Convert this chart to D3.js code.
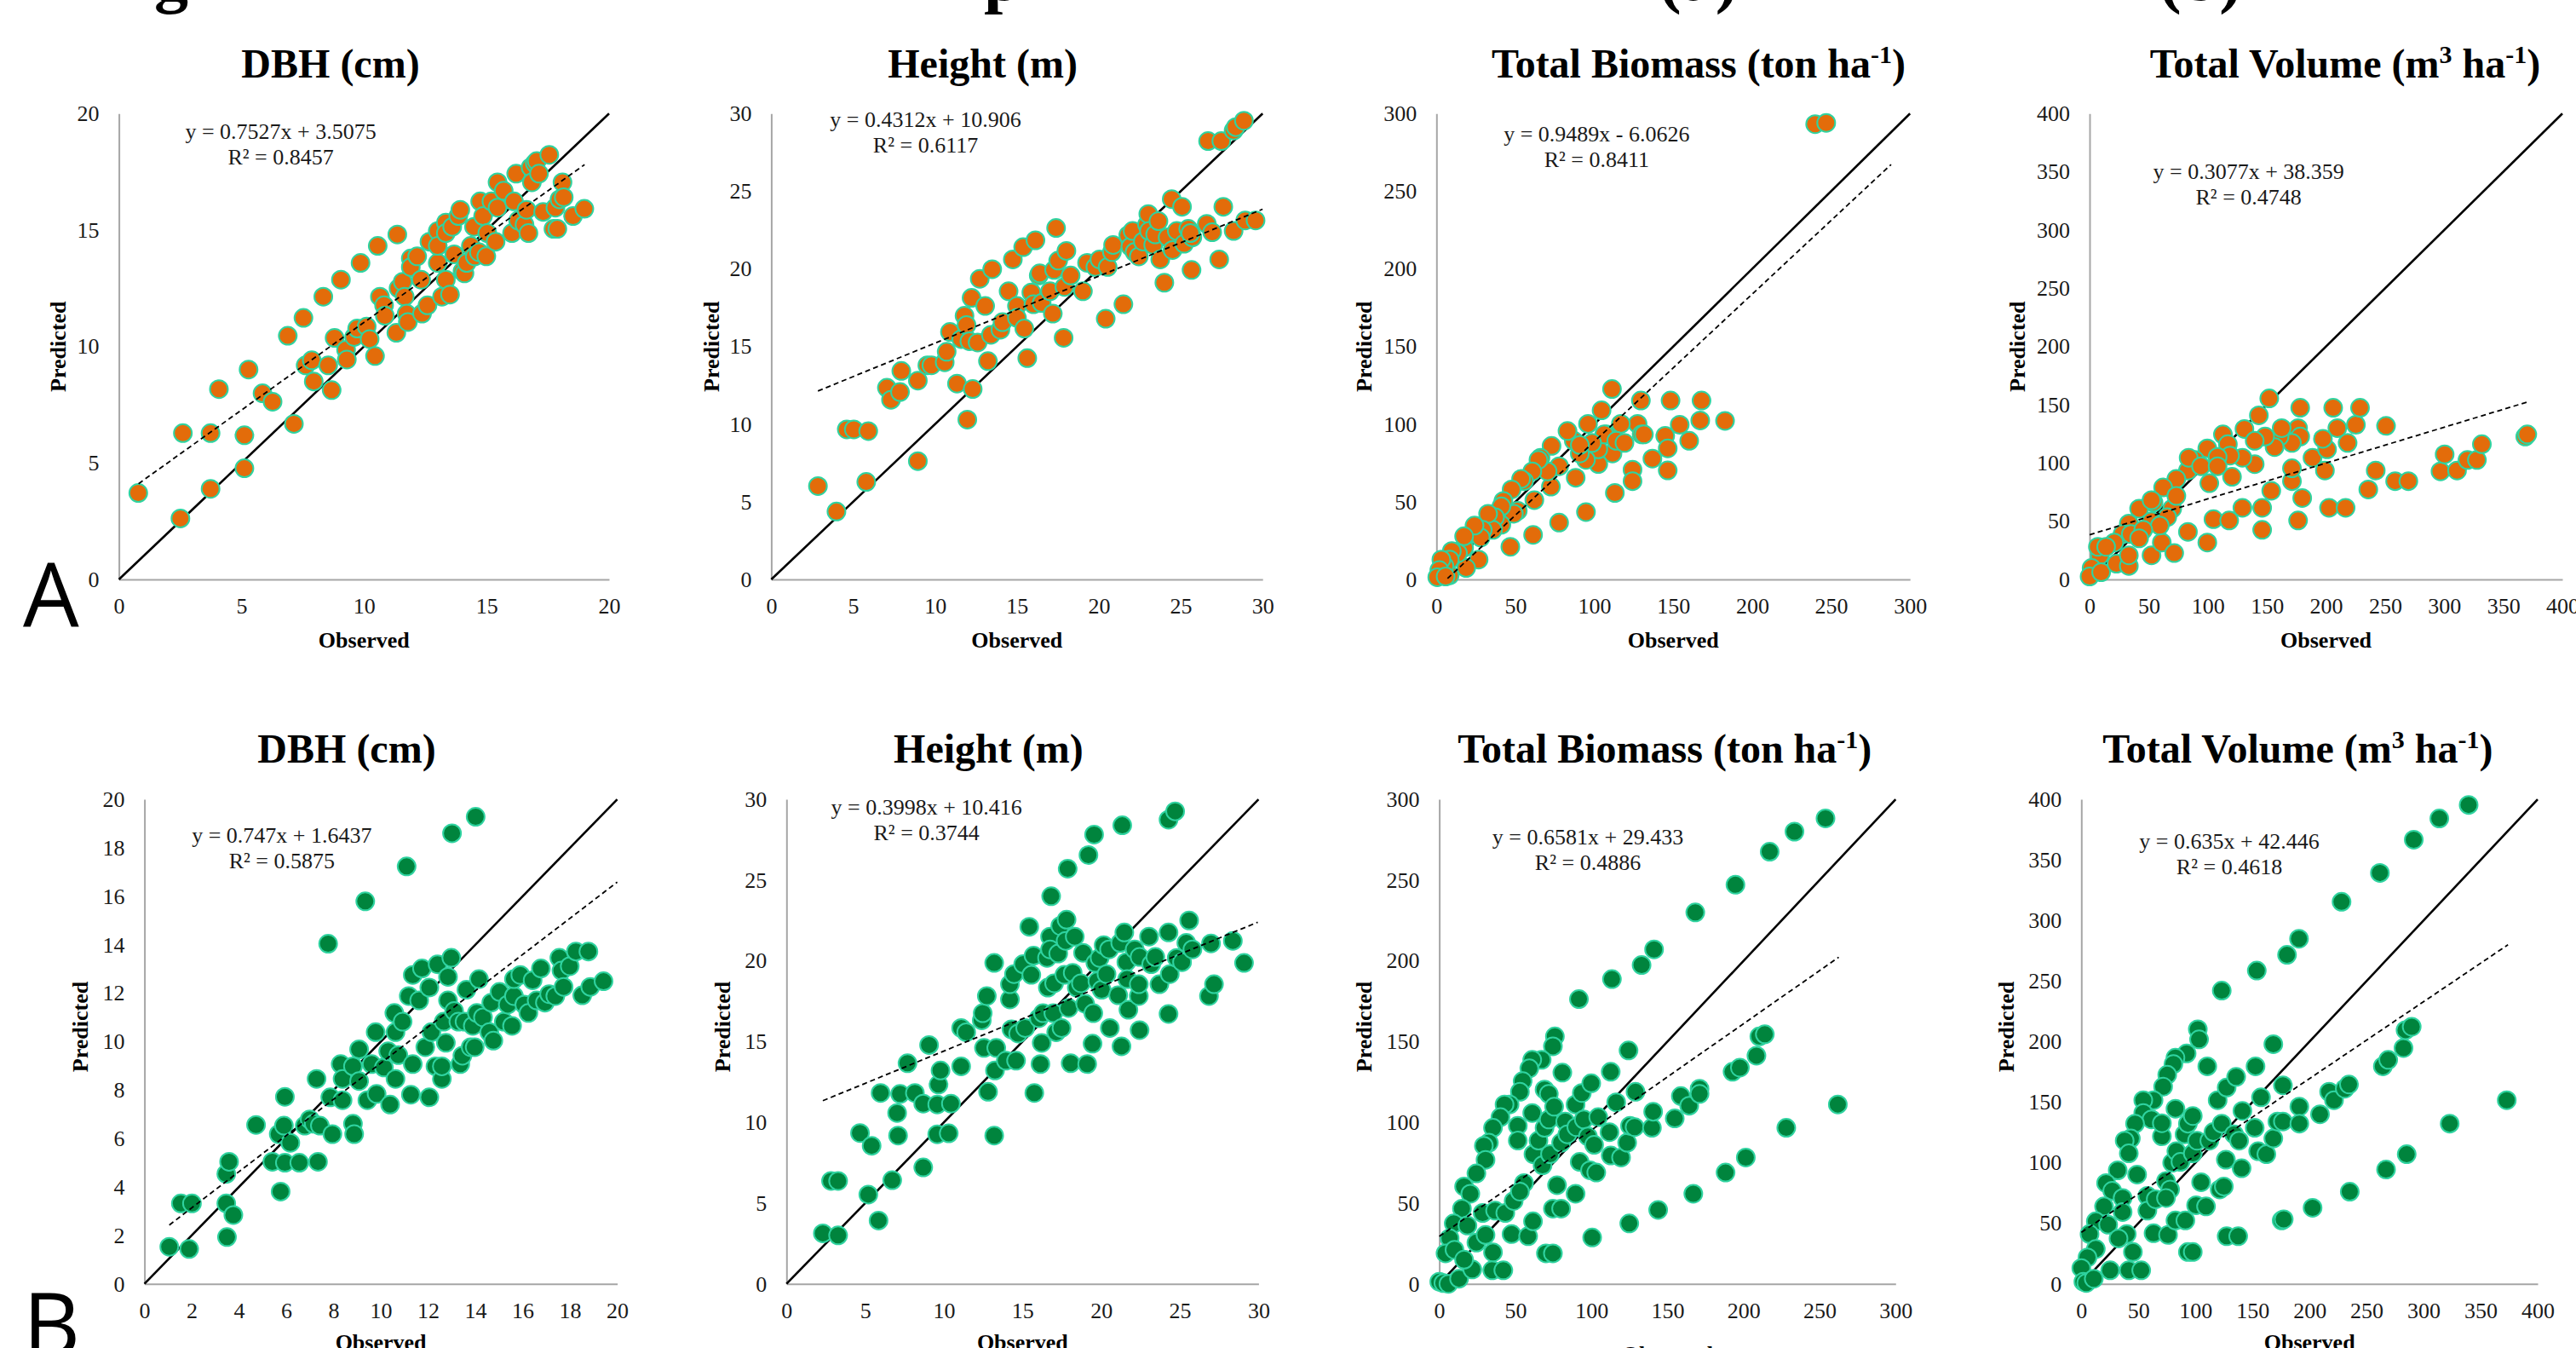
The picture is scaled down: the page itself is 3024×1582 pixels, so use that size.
<!DOCTYPE html>
<html>
<head>
<meta charset="utf-8">
<script src="https://cdn.jsdelivr.net/npm/d3@7"></script>
<style>
  body { margin: 0; background: #fff; }
  svg { display: block; font-family: "Liberation Serif", "Times New Roman", serif; }
  .axis .domain { stroke: #a6a6a6; stroke-width: 2px; }
  .axis .tick text { font-size: 26px; fill: #1a1a1a; font-family: "Liberation Serif", "Times New Roman", serif; }
  .title { font-size: 48px; font-weight: bold; white-space: pre; }
  .axis-label { font-size: 26px; font-weight: bold; }
  .eq { font-size: 26px; fill: #1a1a1a; }
</style>
</head>
<body>
<div id="chart"></div>
<script>

// ---- data: [observed, predicted] ----
const dbhTrain = [[0.79,3.71],[2.51,2.62],[2.61,6.28],[3.74,6.28],[3.74,3.89],[4.08,8.17],[5.12,6.19],[5.12,4.77],[5.29,9.01],[5.86,7.99],[6.27,7.63],[6.89,10.46],[7.14,6.68],[7.53,11.23],[7.62,9.19],[7.87,9.41],[7.95,8.50],[8.34,12.14],[8.54,9.19],[8.68,8.13],[8.80,10.37],[9.06,12.87],[9.27,9.86],[9.30,9.44],[9.60,10.41],[9.72,10.77],[9.86,13.59],[10.11,10.86],[10.23,10.32],[10.45,9.59],[10.56,14.32],[10.65,12.14],[10.82,11.77],[10.85,11.32],[11.32,10.59],[11.36,14.81],[11.41,12.50],[11.58,12.78],[11.66,12.14],[11.74,11.41],[11.79,11.05],[11.91,13.78],[11.91,13.41],[12.17,13.87],[12.33,12.87],[12.37,11.41],[12.59,11.77],[12.67,14.50],[13.01,14.96],[13.01,13.59],[13.01,14.32],[13.18,12.14],[13.34,15.32],[13.34,12.87],[13.34,14.87],[13.51,12.23],[13.60,15.14],[13.68,13.96],[13.85,15.60],[13.93,15.87],[14.02,13.23],[14.10,13.14],[14.19,13.59],[14.36,14.32],[14.49,15.14],[14.52,13.87],[14.69,14.05],[14.74,16.23],[14.86,15.60],[14.99,13.87],[15.03,14.87],[15.20,16.23],[15.37,14.50],[15.45,17.05],[15.45,15.96],[15.70,16.69],[16.04,14.87],[16.12,16.23],[16.21,17.42],[16.29,15.41],[16.55,15.23],[16.63,15.87],[16.71,14.87],[16.80,17.69],[16.85,17.05],[16.97,17.87],[17.05,17.96],[17.14,17.42],[17.31,15.78],[17.56,18.23],[17.73,15.05],[17.81,15.96],[17.89,15.05],[17.98,16.32],[18.10,17.05],[18.15,16.41],[18.53,15.60],[18.99,15.91]];

const heightTrain = [[2.85,6.01],[3.98,4.37],[4.61,9.66],[5.04,9.66],[5.92,9.55],[5.80,6.28],[7.06,12.34],[7.31,11.57],[7.94,13.43],[7.86,12.07],[8.95,12.80],[8.95,7.62],[9.53,13.79],[9.78,13.79],[10.59,13.98],[10.71,14.66],[10.91,15.94],[11.34,12.61],[11.60,15.48],[11.80,16.98],[11.92,16.38],[11.97,10.29],[12.10,15.34],[12.23,18.13],[12.30,12.26],[12.60,15.26],[12.73,19.36],[13.06,17.61],[13.23,14.06],[13.41,15.75],[13.49,19.98],[13.99,16.08],[14.12,16.57],[14.49,18.56],[14.75,20.61],[15.00,17.61],[15.00,16.84],[15.38,21.40],[15.45,16.16],[15.63,14.25],[15.88,18.48],[16.01,17.72],[16.13,21.84],[16.33,19.57],[16.51,17.80],[16.39,19.71],[17.02,18.56],[17.19,17.12],[17.27,19.93],[17.39,22.63],[17.52,20.53],[17.85,15.56],[17.90,18.84],[18.02,21.16],[18.28,19.57],[19.03,18.56],[19.28,20.39],[19.79,20.12],[20.04,20.61],[20.42,16.79],[20.54,20.12],[20.80,21.08],[20.87,21.54],[21.50,17.72],[21.80,22.17],[21.93,21.43],[22.06,22.44],[22.18,21.08],[22.44,20.80],[22.69,21.76],[22.94,22.85],[23.02,23.53],[23.06,22.44],[23.32,21.54],[23.44,22.22],[23.64,23.07],[23.75,20.61],[24.00,19.11],[24.20,22.03],[24.45,24.49],[24.50,21.21],[24.76,22.44],[25.08,24.00],[25.21,21.62],[25.46,22.58],[25.66,19.93],[25.71,22.03],[25.59,22.30],[26.59,22.90],[26.67,28.23],[26.92,22.36],[27.35,20.61],[27.48,28.23],[27.60,24.00],[28.23,22.44],[28.23,28.91],[28.36,29.13],[28.86,29.54],[28.94,23.12],[29.57,23.12]];

const biomassTrain = [[239.9,293.2],[246.9,294.0],[111.2,122.6],[104.6,108.9],[129.5,115.2],[148.3,115.2],[167.9,115.2],[182.8,102.1],[167.1,102.4],[154.1,99.6],[144.9,92.5],[160.1,89.3],[146.5,84.4],[136.8,77.8],[146.5,70.2],[124.2,70.7],[124.2,63.3],[113.0,55.7],[94.7,43.4],[77.7,36.6],[61.2,28.7],[46.8,21.0],[127.4,100.2],[130.0,93.4],[116.8,100.2],[111.5,81.1],[107.6,93.4],[102.5,74.3],[102.5,83.8],[96.0,100.2],[94.7,77.0],[88.2,65.5],[87.0,89.3],[83.0,95.6],[77.7,72.9],[72.9,86.0],[72.5,59.8],[70.4,69.6],[65.9,78.4],[64.6,77.0],[62.0,51.1],[60.7,69.6],[55.5,63.3],[53.6,64.7],[51.5,44.2],[49.0,42.3],[47.6,57.9],[42.4,50.5],[41.1,47.0],[41.1,35.2],[37.1,40.1],[35.8,31.9],[32.7,42.3],[29.3,31.9],[28.0,27.0],[26.7,12.8],[24.1,34.7],[18.8,7.4],[17.5,20.5],[17.5,27.8],[13.6,16.9],[9.7,18.3],[8.4,12.8],[8.4,2.7],[5.0,8.7],[3.1,12.8],[1.8,6.0],[0.5,1.4],[5.8,1.9],[106.3,93.4],[113.9,89.3],[119.1,87.9],[131.4,93.4],[98.6,87.9],[90.8,81.1],[90.8,86.5]];

const volumeTrain = [[152.0,155.4],[143.2,140.9],[131.0,129.2],[112.8,124.5],[117.0,116.1],[99.6,112.5],[89.1,102.6],[83.2,93.5],[73.4,86.3],[62.2,79.0],[54.1,66.2],[41.9,60.8],[33.2,48.0],[27.9,38.9],[20.9,31.7],[8.7,20.7],[7.0,28.0],[1.7,9.8],[0.0,2.5],[9.8,6.2],[22.7,13.5],[33.2,11.6],[33.2,20.7],[34.9,38.9],[52.4,49.9],[52.4,20.7],[61.1,31.7],[71.6,22.6],[69.9,60.8],[65.7,53.5],[83.2,40.8],[99.6,31.7],[104.8,51.7],[118.1,50.6],[129.3,61.5],[146.0,42.6],[146.0,61.5],[153.7,76.1],[171.2,84.4],[171.2,95.4],[176.4,50.6],[179.9,69.9],[178.2,147.4],[176.4,129.9],[178.2,122.7],[171.2,117.2],[160.7,122.7],[162.5,129.9],[156.5,113.6],[148.5,122.7],[139.7,119.0],[139.7,99.0],[129.3,104.5],[120.5,88.1],[118.8,106.3],[108.3,105.2],[101.3,82.6],[188.6,104.5],[199.1,93.5],[200.9,111.7],[197.4,120.8],[206.1,147.4],[209.6,129.9],[218.3,117.2],[225.3,132.8],[228.8,147.4],[202.6,61.5],[216.6,61.5],[235.8,77.2],[242.1,93.5],[250.8,131.8],[258.5,84.4],[269.7,84.4],[296.9,92.8],[300.4,107.4],[310.9,93.5],[319.7,102.6],[327.7,102.6],[331.9,116.1],[368.6,122.7],[370.3,124.5],[83.8,104.5],[94.3,97.2],[108.3,97.2],[73.4,71.7],[59.4,46.2],[45.4,42.6],[14.0,28.0],[41.9,35.3],[52.4,68.1]];

const dbhTest = [[1.05,1.53],[1.89,1.44],[1.54,3.32],[2.01,3.32],[3.49,1.93],[3.46,3.32],[3.76,2.84],[3.46,4.54],[3.58,5.04],[4.72,6.56],[5.41,5.04],[5.76,3.81],[5.94,5.00],[6.55,5.00],[7.34,5.04],[5.68,6.18],[5.90,6.53],[6.17,5.82],[5.94,7.72],[6.78,6.53],[6.99,6.79],[7.16,6.61],[7.42,6.53],[7.28,8.46],[7.77,14.04],[7.86,7.70],[7.95,6.18],[8.30,9.07],[8.38,7.58],[8.38,8.46],[8.82,6.61],[8.87,6.18],[8.82,8.98],[9.08,9.68],[9.08,8.37],[9.34,15.79],[9.43,7.58],[9.61,9.07],[9.78,10.39],[9.82,7.84],[10.13,8.93],[10.31,9.60],[10.39,7.40],[10.57,11.18],[10.62,8.46],[10.62,10.39],[10.74,9.44],[10.92,10.82],[11.09,17.23],[11.18,11.88],[11.27,7.81],[11.35,9.07],[11.35,12.75],[11.62,11.70],[11.74,13.02],[12.05,7.70],[12.05,12.23],[11.88,9.77],[12.14,10.39],[12.31,8.98],[12.40,13.19],[12.58,8.46],[12.58,8.98],[12.66,10.82],[12.75,9.95],[12.84,12.67],[12.84,11.70],[12.98,13.46],[13.01,18.60],[13.10,11.26],[13.28,10.82],[13.36,9.07],[13.45,9.42],[13.54,10.82],[13.62,12.14],[13.80,9.77],[13.89,10.65],[13.97,9.77],[14.01,19.28],[14.06,11.18],[14.15,12.58],[14.32,11.00],[14.59,10.39],[14.67,11.61],[14.76,10.04],[15.02,12.05],[15.20,10.82],[15.37,11.53],[15.55,10.65],[15.63,11.88],[15.63,12.58],[15.90,12.75],[16.07,11.53],[16.24,11.18],[16.42,12.53],[16.59,11.70],[16.77,13.02],[16.94,11.61],[17.12,11.96],[17.38,11.88],[17.55,13.46],[17.64,12.93],[17.73,12.26],[17.99,13.11],[18.25,13.72],[18.52,11.91],[18.78,13.72],[18.86,12.26],[19.42,12.49]];

const heightTest = [[2.31,3.13],[3.28,3.00],[2.83,6.37],[3.28,6.37],[5.20,5.53],[5.85,3.92],[4.67,9.34],[5.41,8.55],[6.72,6.42],[5.98,11.82],[7.09,9.18],[7.03,10.58],[7.22,11.76],[7.69,13.66],[8.16,11.82],[8.69,11.16],[8.69,7.21],[9.06,14.79],[9.58,11.11],[9.66,12.34],[9.79,13.21],[9.58,9.26],[10.31,9.32],[10.45,11.16],[11.10,13.47],[11.10,15.84],[11.42,15.58],[12.41,16.32],[12.47,16.76],[12.55,14.61],[12.73,17.82],[12.81,11.89],[13.20,19.87],[13.20,9.18],[13.25,13.21],[13.33,14.61],[13.94,13.82],[14.20,17.61],[14.20,18.55],[14.30,15.76],[14.46,19.18],[14.59,13.82],[14.72,15.50],[15.04,19.79],[15.17,15.84],[15.43,22.11],[15.56,19.13],[15.70,20.32],[15.75,11.82],[16.04,16.45],[16.14,13.61],[16.22,14.92],[16.30,16.76],[16.56,20.18],[16.61,18.34],[16.75,21.50],[16.75,20.71],[16.82,24.00],[16.96,16.76],[17.01,18.61],[17.14,15.58],[17.27,20.45],[17.40,22.16],[17.48,15.84],[17.66,19.13],[17.74,21.24],[17.80,22.55],[17.87,25.71],[17.93,17.08],[18.06,13.66],[18.19,19.26],[18.32,21.50],[18.45,18.34],[18.71,18.61],[18.85,20.50],[18.98,17.34],[19.11,13.61],[19.19,26.55],[19.50,16.76],[19.45,14.87],[19.55,27.82],[19.63,19.87],[19.76,18.74],[19.90,20.18],[20.03,18.21],[20.16,20.97],[20.34,19.18],[20.50,20.71],[20.55,15.84],[21.08,17.87],[21.21,21.11],[21.29,14.71],[21.34,28.39],[21.47,21.76],[21.60,19.92],[21.73,16.97],[21.65,18.87],[22.13,20.71],[22.39,17.82],[22.44,20.24],[22.44,15.71],[22.39,18.55],[23.04,21.50],[23.18,19.79],[23.44,20.24],[23.70,18.55],[24.28,21.76],[24.28,16.71],[24.28,28.74],[24.36,19.18],[24.70,29.26],[24.80,20.18],[25.14,19.92],[25.41,21.11],[25.59,22.50],[25.80,20.71],[26.85,17.82],[26.98,21.08],[27.17,18.55],[28.37,21.24],[29.08,19.87]];

const biomassTest = [[253.9,288.2],[233.5,280.0],[217.2,267.6],[194.7,247.1],[168.3,230.0],[141.2,207.1],[133.0,197.4],[113.5,188.7],[91.8,176.3],[76.0,153.2],[74.7,147.1],[67.3,138.7],[61.1,138.7],[59.2,133.4],[54.8,125.5],[53.0,118.9],[46.2,111.1],[42.9,111.1],[40.2,103.2],[35.3,96.6],[32.6,87.4],[29.3,85.5],[30.4,76.8],[24.4,68.4],[16.3,60.3],[20.4,55.8],[14.9,46.6],[9.5,37.4],[6.8,28.2],[4.1,18.9],[0.0,1.3],[2.7,0.5],[6.0,0.0],[13.0,3.2],[21.7,8.9],[34.8,8.4],[42.1,8.4],[35.3,19.5],[10.0,21.1],[16.3,15.0],[24.4,25.5],[30.4,30.3],[18.5,36.1],[28.5,43.9],[36.7,45.3],[43.4,43.9],[48.9,51.3],[47.5,30.8],[58.4,29.5],[61.6,38.7],[55.7,62.4],[53.0,57.1],[51.6,97.9],[51.6,88.7],[61.1,105.8],[61.9,80.3],[65.2,88.7],[67.9,73.4],[70.1,18.9],[74.7,18.9],[69.2,120.3],[72.0,117.6],[69.2,96.6],[72.0,101.8],[72.8,80.3],[75.5,109.7],[74.7,46.6],[77.4,61.1],[80.1,87.4],[80.1,46.6],[80.9,130.8],[82.8,100.5],[84.2,92.6],[89.6,55.8],[90.1,97.1],[89.6,111.1],[92.3,75.5],[93.7,118.2],[95.0,101.8],[97.7,91.3],[99.1,70.3],[99.9,124.2],[100.5,28.7],[101.8,86.1],[103.2,68.9],[104.5,103.2],[111.9,93.9],[112.7,79.5],[112.7,131.3],[116.3,112.4],[119.5,78.2],[123.5,87.4],[124.4,144.5],[124.9,37.4],[125.4,97.9],[129.0,118.9],[128.4,97.1],[139.8,96.6],[140.6,106.6],[143.9,45.8],[154.8,102.4],[158.8,116.3],[164.3,110.3],[167.0,55.8],[171.1,120.8],[171.1,117.6],[188.2,68.9],[192.8,131.3],[197.6,133.9],[201.5,78.2],[208.5,141.3],[210.4,153.2],[214.0,154.5],[228.1,96.6],[262.0,111.1]];

const volumeTest = [[339.5,395.4],[313.8,384.2],[291.4,366.7],[261.7,339.3],[228.1,315.4],[190.8,284.9],[180.3,271.6],[153.8,258.6],[123.1,242.1],[102.1,210.2],[103.2,201.8],[92.3,190.2],[82.5,186.7],[80.7,181.4],[75.3,172.6],[71.7,162.8],[63.3,151.6],[54.3,151.6],[54.3,141.1],[61.5,135.8],[47.1,132.3],[43.4,120.0],[38.0,118.2],[41.6,107.7],[31.9,93.7],[48.9,90.2],[21.7,83.2],[27.1,76.8],[19.9,63.9],[36.2,70.9],[12.7,51.6],[23.5,48.8],[36.2,59.3],[7.2,41.1],[39.8,41.1],[12.7,28.8],[5.4,21.8],[0.0,13.0],[1.8,1.8],[4.3,0.7],[10.9,4.2],[25.3,11.2],[41.6,11.2],[52.5,11.2],[45.2,26.3],[32.6,37.5],[57.9,72.6],[57.9,60.4],[65.2,69.8],[63.3,41.8],[76.0,40.4],[82.5,52.3],[91.2,52.3],[93.4,26.3],[97.7,26.3],[74.2,84.9],[77.8,77.9],[79.6,100.0],[74.2,70.9],[83.3,109.5],[82.5,144.6],[70.6,121.8],[70.6,132.6],[86.9,100.7],[90.5,123.5],[93.4,132.3],[97.7,138.6],[97.7,107.7],[100.6,64.9],[101.4,118.2],[105.0,83.9],[109.3,63.9],[110.4,179.6],[112.2,118.2],[115.8,125.3],[119.5,151.6],[121.3,77.9],[123.1,132.3],[124.9,80.4],[126.7,102.5],[127.4,162.1],[127.4,39.3],[133.9,123.5],[135.7,170.9],[137.5,39.3],[138.3,118.2],[140.5,95.4],[141.2,142.8],[152.0,128.8],[152.7,179.6],[155.0,109.5],[157.5,154.0],[162.2,107.0],[168.3,197.9],[168.3,120.0],[171.9,134.0],[175.6,52.3],[177.4,53.3],[176.7,134.0],[176.7,163.9],[191.1,146.3],[191.1,132.3],[202.7,62.8],[209.2,140.0],[217.2,158.6],[221.5,151.6],[230.9,161.1],[234.6,164.6],[235.3,76.1],[264.3,179.6],[269.0,184.9],[267.1,94.4],[282.4,194.7],[284.2,209.5],[289.6,212.3],[285.2,107.0],[322.9,132.3],[372.9,151.6]];

// fitted trendlines: [slope, intercept, R2]
const fitDbhTrain = [0.7527, 3.5075, 0.8457];
const fitHeightTrain = [0.4312, 10.906, 0.6117];
const fitBiomassTrain = [0.9489, -6.0626, 0.8411];
const fitVolumeTrain = [0.3077, 38.359, 0.4748];
const fitDbhTest = [0.747, 1.6437, 0.5875];
const fitHeightTest = [0.3998, 10.416, 0.3744];
const fitBiomassTest = [0.6581, 29.433, 0.4886];
const fitVolumeTest = [0.635, 42.446, 0.4618];

// x extent of each trendline
const trendDbhTrain = [0.8, 19.0];
const trendHeightTrain = [2.85, 30];
const trendBiomassTrain = [7, 288];
const trendVolumeTrain = [0, 372];
const trendDbhTest = [1.05, 20];
const trendHeightTest = [2.31, 29.95];
const trendBiomassTest = [0, 262.6];
const trendVolumeTest = [0, 374];

// axis maxima and tick steps
const axisDbhTrain = [20, 5];
const axisHeight = [30, 5];
const axisBiomass = [300, 50];
const axisVolume = [400, 50];
const axisDbhTest = [20, 2];

const titleDbh = [["DBH (cm)"]];
const titleHeight = [["Height (m)"]];
const titleBiomass = [["Total Biomass (ton ha"], ["-1", "sup"], [")"]];
const titleVolume = [["Total Volume (m"], ["3", "sup"], [" ha"], ["-1", "sup"], [")"]];

const orange = "#e36c0a";
const green = "#00843d";
const rim = "#2fd3a0";


class ObsPredPanel {

  constructor(_config) {
    this.config = {
      parentElement: _config.parentElement,
      box: _config.box,          // [left, right, top, bottom]
      titleAt: _config.titleAt,  // [x, baseline]
      eqAt: _config.eqAt,
      predAt: _config.predAt,
      obsY: _config.obsY,
      fill: _config.fill
    }
    this.data = _config.data;
    this.fit = _config.fit;
    this.trend = _config.trend;
    this.axis = _config.axis;
    this.title = _config.title;

    this.initVis();
  }

  initVis() {
    let vis = this;
    let [left, right, top, bottom] = vis.config.box;

    vis.svg = vis.config.parentElement.append("g");

    vis.xScale = d3.scaleLinear()
        .domain([0, vis.axis[0]])
        .range([left, right]);

    vis.yScale = d3.scaleLinear()
        .domain([0, vis.axis[0]])
        .range([bottom, top]);

    let ticks = d3.range(0, vis.axis[0] + vis.axis[1] / 2, vis.axis[1]);

    vis.xAxis = d3.axisBottom(vis.xScale)
        .tickValues(ticks)
        .tickSize(0)
        .tickPadding(22)
        .tickFormat(d3.format("d"));

    vis.yAxis = d3.axisLeft(vis.yScale)
        .tickValues(ticks)
        .tickSize(0)
        .tickPadding(23)
        .tickFormat(d3.format("d"));

    vis.xAxisGroup = vis.svg.append("g")
        .attr("class", "axis axis--x")
        .attr("transform", "translate(0," + bottom + ")");

    vis.yAxisGroup = vis.svg.append("g")
        .attr("class", "axis axis--y")
        .attr("transform", "translate(" + left + ",0)");

    vis.updateVis();
  }

  updateVis() {
    let vis = this;
    let [left, right, top, bottom] = vis.config.box;

    vis.xAxisGroup.call(vis.xAxis);
    vis.yAxisGroup.call(vis.yAxis);

    // 1:1 line (behind markers)
    vis.svg.append("line")
        .attr("x1", vis.xScale(0))
        .attr("y1", vis.yScale(0))
        .attr("x2", vis.xScale(vis.axis[0]))
        .attr("y2", vis.yScale(vis.axis[0]))
        .attr("stroke", "#000")
        .attr("stroke-width", 2.6);

    vis.svg.append("g").selectAll("circle")
        .data(vis.data)
      .enter().append("circle")
        .attr("cx", d => vis.xScale(d[0]))
        .attr("cy", d => vis.yScale(d[1]))
        .attr("r", 10.5)
        .attr("fill", vis.config.fill)
        .attr("stroke", rim)
        .attr("stroke-width", 2);

    // linear trendline (dashed, on top)
    let [slope, intercept, r2] = vis.fit;
    vis.svg.append("line")
        .attr("x1", vis.xScale(vis.trend[0]))
        .attr("y1", vis.yScale(slope * vis.trend[0] + intercept))
        .attr("x2", vis.xScale(vis.trend[1]))
        .attr("y2", vis.yScale(slope * vis.trend[1] + intercept))
        .attr("stroke", "#000")
        .attr("stroke-width", 1.8)
        .attr("stroke-dasharray", "6,4");

    let eq = vis.svg.append("text")
        .attr("class", "eq")
        .attr("text-anchor", "middle");
    eq.append("tspan")
        .attr("x", vis.config.eqAt[0])
        .attr("y", vis.config.eqAt[1])
        .text("y = " + slope + "x " + (intercept < 0 ? "- " : "+ ") + Math.abs(intercept));
    eq.append("tspan")
        .attr("x", vis.config.eqAt[0])
        .attr("y", vis.config.eqAt[1] + 30)
        .text("R\u00b2 = " + r2);

    // title with superscripts
    let title = vis.svg.append("text")
        .attr("class", "title")
        .attr("text-anchor", "middle")
        .attr("x", vis.config.titleAt[0])
        .attr("y", vis.config.titleAt[1]);
    let raised = false;
    vis.title.forEach(seg => {
      let sup = seg[1] === "sup";
      let t = title.append("tspan").text(seg[0]);
      if (sup && !raised) t.attr("dy", -17).attr("font-size", 30);
      else if (sup) t.attr("font-size", 30);
      else if (raised) t.attr("dy", 17);
      raised = sup;
    });

    vis.svg.append("text")
        .attr("class", "axis-label")
        .attr("text-anchor", "middle")
        .attr("dominant-baseline", "central")
        .attr("transform", "translate(" + vis.config.predAt[0] + "," + vis.config.predAt[1] + ") rotate(-90)")
        .text("Predicted");

    vis.svg.append("text")
        .attr("class", "axis-label")
        .attr("text-anchor", "middle")
        .attr("x", (left + right) / 2)
        .attr("y", vis.config.obsY)
        .text("Observed");
  }
}


const svg = d3.select("#chart").append("svg")
    .attr("width", 3024)
    .attr("height", 1582);

svg.append("rect").attr("width", 3024).attr("height", 1582).attr("fill", "#fff");

// header line, cut off by the top edge
const header = svg.append("g")
    .attr("font-size", 80)
    .attr("font-weight", "bold");
[["g", 181], ["p", 1155], ["(a)", 1947], ["(b)", 2534]].forEach(h => {
  header.append("text").attr("x", h[1]).attr("y", 0).text(h[0]);
});

svg.append("text").attr("x", 27).attr("y", 736)
    .attr("font-family", "'Open Sans', sans-serif").attr("font-size", 104).text("A");
svg.append("text").attr("x", 27).attr("y", 1592)
    .attr("font-family", "'Open Sans', sans-serif").attr("font-size", 104).text("B");

const panels = [
  { box: [139.6, 715.0, 133.3, 680], titleAt: [388, 90.5], eqAt: [329.6, 163], predAt: [68, 406.7], obsY: 760,
    data: dbhTrain, fit: fitDbhTrain, trend: trendDbhTrain, axis: axisDbhTrain, title: titleDbh, fill: orange },
  { box: [905.4, 1482.2, 133.3, 680], titleAt: [1153.6, 90.5], eqAt: [1086.5, 149], predAt: [835, 406.7], obsY: 760,
    data: heightTrain, fit: fitHeightTrain, trend: trendHeightTrain, axis: axisHeight, title: titleHeight, fill: orange },
  { box: [1686.3, 2242.2, 133.3, 680], titleAt: [1994, 90.5], eqAt: [1874.3, 165.7], predAt: [1601.4, 406.7], obsY: 760,
    data: biomassTrain, fit: fitBiomassTrain, trend: trendBiomassTrain, axis: axisBiomass, title: titleBiomass, fill: orange },
  { box: [2453, 3008, 133.3, 680], titleAt: [2753, 90.5], eqAt: [2639.7, 210.4], predAt: [2368, 406.7], obsY: 760,
    data: volumeTrain, fit: fitVolumeTrain, trend: trendVolumeTrain, axis: axisVolume, title: titleVolume, fill: orange },
  { box: [169.6, 724.6, 938.1, 1506.7], titleAt: [407, 894.8], eqAt: [330.8, 988.5], predAt: [94.5, 1205], obsY: 1584,
    data: dbhTest, fit: fitDbhTest, trend: trendDbhTest, axis: axisDbhTest, title: titleDbh, fill: green },
  { box: [923.3, 1477.4, 938.1, 1506.7], titleAt: [1160.4, 894.8], eqAt: [1087.7, 956], predAt: [848, 1205], obsY: 1584,
    data: heightTest, fit: fitHeightTest, trend: trendHeightTest, axis: axisHeight, title: titleHeight, fill: green },
  { box: [1689.6, 2225.3, 938.1, 1506.7], titleAt: [1954.3, 894.8], eqAt: [1864, 991], predAt: [1601, 1205], obsY: 1598,
    data: biomassTest, fit: fitBiomassTest, trend: trendBiomassTest, axis: axisBiomass, title: titleBiomass, fill: green },
  { box: [2443.3, 2979, 938.1, 1506.7], titleAt: [2697.3, 894.8], eqAt: [2617, 996], predAt: [2355, 1205], obsY: 1584,
    data: volumeTest, fit: fitVolumeTest, trend: trendVolumeTest, axis: axisVolume, title: titleVolume, fill: green }
];

panels.forEach(p => new ObsPredPanel(Object.assign({ parentElement: svg }, p)));

</script>
</body>
</html>
